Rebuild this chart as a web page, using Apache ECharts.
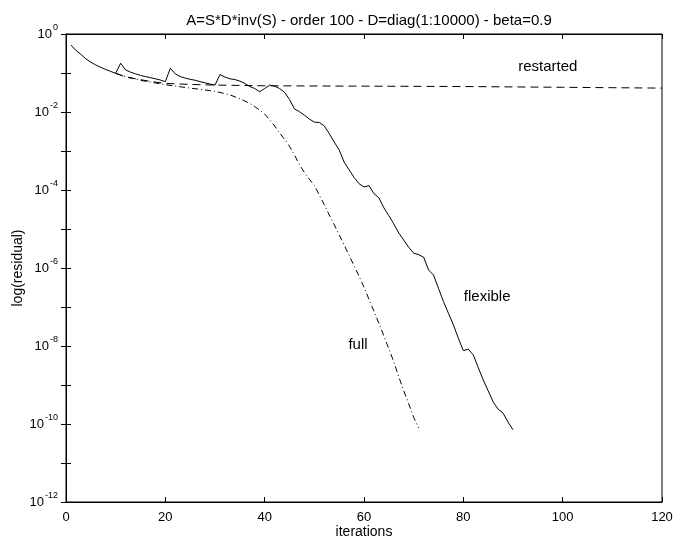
<!DOCTYPE html>
<html><head><meta charset="utf-8">
<script src="https://cdn.jsdelivr.net/npm/echarts@6/dist/echarts.min.js"></script>
<style>html,body{margin:0;padding:0;background:#fff}#c{width:675px;height:540px}</style>
</head><body><div id="c"></div>
<script>
var xTicks = [0, 20, 40, 60, 80, 100, 120];
var flexX = [1,2,3,4,5,6,7,8,9,10,11,12,13,14,15,16,17,18,19,20,21,22,23,24,25,26,27,28,29,30,31,32,33,34,35,36,37,38,39,40,41,42,43,44,45,46,47,48,49,50,51,52,53,54,55,56,57,58,59,60,61,62,63,64,65,66,67,68,69,70,71,72,73,74,75,76,77,78,79,80,81,82,83,84,85,86,87,88,89,90];
var flexY = [5.2e-1,3.8e-1,3.0e-1,2.3e-1,1.9e-1,1.6e-1,1.4e-1,1.23e-1,1.1e-1,9.8e-2,
  1.78e-1,1.2e-1,1.05e-1,9.5e-2,8.7e-2,8.1e-2,7.6e-2,7.1e-2,6.6e-2,6.0e-2,
  1.32e-1,9.5e-2,8.1e-2,7.4e-2,6.9e-2,6.5e-2,6.0e-2,5.6e-2,5.2e-2,4.9e-2,
  9.1e-2,7.9e-2,7.1e-2,6.8e-2,6.2e-2,5.4e-2,4.5e-2,4.0e-2,3.3e-2,4.0e-2,
  4.9e-2,4.6e-2,4.0e-2,3.2e-2,2.1e-2,1.2e-2,1.02e-2,8.3e-3,6.6e-3,5.5e-3,
  5.4e-3,4.4e-3,2.8e-3,1.7e-3,1.07e-3,5.2e-4,3.3e-4,2.1e-4,1.45e-4,1.2e-4,
  1.29e-4,8.1e-5,6.3e-5,3.5e-5,2.2e-5,1.35e-5,7.9e-6,5.2e-6,3.4e-6,2.4e-6,
  2.2e-6,1.9e-6,8.9e-7,6.6e-7,3.0e-7,1.38e-7,6.9e-8,3.5e-8,1.58e-8,7.6e-9,
  8.3e-9,5.9e-9,2.8e-9,1.35e-9,7.1e-10,3.7e-10,2.4e-10,1.9e-10,1.12e-10,7.1e-11];
var fullX = [10,12,15,20,25,30,33,35,37,38,40,41,42,43,44,45,46,47,48,49,50,51,52,53,54,55,56,57,58,59,60,61,62,63,64,65,66,67,68,69,70,71];
var fullY = [9.8e-2,8.1e-2,6.5e-2,5.0e-2,4.1e-2,3.4e-2,2.75e-2,2.2e-2,1.66e-2,1.38e-2,
  8.9e-3,6.3e-3,4.4e-3,2.9e-3,2.0e-3,1.32e-3,7.9e-4,4.5e-4,2.8e-4,1.9e-4,
  1.32e-4,7.4e-5,4.2e-5,2.3e-5,1.29e-5,7.1e-6,3.9e-6,2.1e-6,1.15e-6,6.2e-7,
  3.2e-7,1.58e-7,7.8e-8,3.8e-8,1.82e-8,8.5e-9,3.9e-9,1.62e-9,7.1e-10,3.3e-10,1.48e-10,7.9e-11];
var restX = [10,12,14,17,20,25,30,40,60,80,100,120];
var restY = [9.8e-2,7.9e-2,7.1e-2,6.1e-2,5.4e-2,5.1e-2,4.9e-2,4.7e-2,4.6e-2,4.5e-2,4.3e-2,4.1e-2];
var seriesNames = ['restarted', 'flexible', 'full'];

function pairs(xs, ys) { return xs.map(function (x, i) { return [x, ys[i]]; }); }

var FONT = 'Liberation Sans';
var chart = echarts.init(document.getElementById('c'));
var yLabelFmt = function (v) {
  var e = Math.round(Math.log10(v));
  if (e % 2 !== 0) return '';
  return '{b|10}{s|' + e + '}';
};
var tickStyle = { show: true, inside: true, length: 5, lineStyle: { color: '#000', width: 1 } };
function lbl(text) {
  return { show: true, position: 'inside', formatter: text, color: '#000', fontFamily: FONT, fontSize: 15 };
}
chart.setOption({
  animation: false,
  backgroundColor: '#fff',
  title: {
    text: 'A=S*D*inv(S) - order 100 - D=diag(1:10000) - beta=0.9',
    left: 364, top: 8, textAlign: 'center',
    textStyle: { fontFamily: FONT, fontSize: 15, fontWeight: 'normal', color: '#000' }
  },
  grid: { left: 66, right: 13, top: 34, bottom: 38, containLabel: false, outerBoundsMode: 'none',
    show: true, borderColor: '#000', borderWidth: 1, backgroundColor: 'transparent' },
  xAxis: [{
    type: 'value', min: 0, max: 120, interval: 20, position: 'bottom',
    name: 'iterations', nameLocation: 'middle', nameGap: 23, nameMoveOverlap: false,
    nameTextStyle: { fontFamily: FONT, fontSize: 14, color: '#000' },
    axisLine: { show: true, lineStyle: { color: '#000', width: 1 } },
    axisTick: tickStyle,
    axisLabel: { fontFamily: FONT, fontSize: 13, color: '#000', margin: 9,
      formatter: function (v) { return xTicks.indexOf(v) >= 0 ? String(v) : ''; } },
    splitLine: { show: false }
  }, {
    type: 'value', min: 0, max: 120, interval: 20, position: 'top',
    axisLine: { show: true, lineStyle: { color: '#000', width: 1 } },
    axisTick: tickStyle, axisLabel: { show: false }, splitLine: { show: false }
  }],
  yAxis: [{
    type: 'log', logBase: 10, min: 1e-12, max: 1, interval: 1, position: 'left',
    name: 'log(residual)', nameLocation: 'middle', nameGap: 41, nameMoveOverlap: false,
    nameTextStyle: { fontFamily: FONT, fontSize: 14, color: '#000' },
    axisLine: { show: true, lineStyle: { color: '#000', width: 1 } },
    axisTick: tickStyle,
    axisLabel: { fontFamily: FONT, fontSize: 13, color: '#000', margin: 8, formatter: yLabelFmt,
      rich: {
        b: { fontFamily: FONT, fontSize: 13, color: '#000' },
        s: { fontFamily: FONT, fontSize: 9, color: '#000', verticalAlign: 'top', padding: [0, 0, 12, 1] }
      } },
    splitLine: { show: false }
  }, {
    type: 'log', logBase: 10, min: 1e-12, max: 1, interval: 1, position: 'right',
    axisLine: { show: true, lineStyle: { color: '#000', width: 1 } },
    axisTick: tickStyle, axisLabel: { show: false }, splitLine: { show: false }
  }],
  series: [{
    name: seriesNames[0], type: 'line', data: pairs(restX, restY), showSymbol: false, symbol: 'none',
    lineStyle: { color: '#000', width: 1, type: [8, 5] },
    markPoint: { symbol: 'circle', symbolSize: 0, data: [{ coord: [97, 0.143] }], label: lbl(seriesNames[0]) }
  }, {
    name: seriesNames[1], type: 'line', data: pairs(flexX, flexY), showSymbol: false, symbol: 'none',
    lineStyle: { color: '#000', width: 1 },
    markPoint: { symbol: 'circle', symbolSize: 0, data: [{ coord: [84.8, 1.8e-7] }], label: lbl(seriesNames[1]) }
  }, {
    name: seriesNames[2], type: 'line', data: pairs(fullX, fullY), showSymbol: false, symbol: 'none',
    lineStyle: { color: '#000', width: 1, type: [6, 3, 1, 3] },
    markPoint: { symbol: 'circle', symbolSize: 0, data: [{ coord: [58.8, 1.07e-8] }], label: lbl(seriesNames[2]) }
  }]
});
</script></body></html>
